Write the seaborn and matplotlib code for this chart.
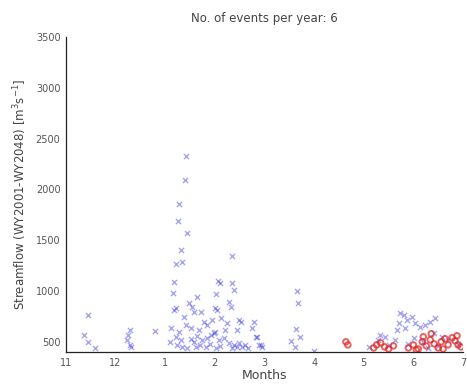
import matplotlib
matplotlib.use("Agg")
import matplotlib.pyplot as plt
import seaborn as sns
import pandas as pd

# Month axis: position 0 = start of November, one unit per month
month_positions = [0, 1, 2, 3, 4, 5, 6, 7, 8]
month_labels = ["11", "12", "1", "2", "3", "4", "5", "6", "7"]
y_ticks = [500, 1000, 1500, 2000, 2500, 3000, 3500]

# Peak-flow events, rain-driven (blue)
blue_month = [
    0.44, 0.36, 0.44, 0.58, 1.28, 1.24, 1.22, 1.28, 1.30, 1.80,
    2.42, 2.40, 2.28, 2.26, 2.44, 2.32, 2.22, 2.34, 3.34, 2.18,
    2.16, 3.06, 3.10, 3.34, 3.38, 3.02, 2.64, 3.28, 3.32, 2.18,
    2.22, 2.48, 2.54, 2.58, 2.72, 3.04, 3.00, 2.38, 2.12, 2.42,
    2.52, 2.68, 2.78, 2.84, 2.94, 3.12, 3.24, 3.48, 3.52, 3.44,
    3.78, 3.74, 3.84, 3.88, 2.22, 2.32, 2.52, 2.58, 2.74, 2.84,
    2.92, 2.98, 3.08, 3.18, 3.28, 3.38, 3.44, 3.48, 2.34, 2.24,
    2.44, 2.62, 2.82, 3.02, 3.34, 3.54, 2.10, 2.28, 2.64, 3.00,
    3.20, 3.10, 2.90, 2.70, 3.60, 3.66, 3.82, 3.92, 3.94,
    4.66, 4.68, 4.64, 4.72, 4.54, 4.62, 5.00,
    6.74, 6.82, 6.72, 6.88, 6.98, 6.68, 6.84, 7.04, 7.14, 7.24,
    7.34, 7.44, 6.32, 6.42, 6.62, 7.02, 7.42, 7.58, 6.28, 6.50,
    6.90, 7.20, 7.50, 7.70, 7.90, 6.10, 7.30,
]
blue_flow = [
    765, 570, 500, 440, 620, 570, 520, 470, 450, 610,
    2329, 2093, 1857, 1690, 1572, 1405, 1267, 1287, 1345, 1090,
    982, 1100, 1080, 1080, 1011, 972, 942, 893, 844, 815,
    830, 883, 844, 795, 795, 815, 830, 746, 638, 667,
    638, 618, 697, 667, 716, 736, 687, 716, 697, 618,
    697, 638, 550, 470, 550, 520, 530, 500, 520, 540,
    570, 589, 520, 540, 490, 470, 450, 490, 450, 470,
    440, 450, 450, 440, 440, 450, 500, 600, 560, 600,
    620, 460, 480, 470, 470, 440, 550, 470, 450,
    1001, 883, 628, 550, 510, 450, 410,
    785, 765, 687, 716, 746, 618, 638, 687, 648, 667,
    697, 736, 570, 550, 520, 540, 589, 550, 520, 470,
    480, 500, 460, 520, 480, 450, 440,
]

# Peak-flow events, snowmelt-driven (red)
red_month = [
    5.64, 5.68, 6.20, 6.26, 6.34, 6.42, 6.50, 6.60, 6.90, 7.00,
    7.10, 7.18, 7.26, 7.34, 7.42, 7.50, 7.56, 7.64, 7.70, 7.78,
    7.84, 7.90, 7.96, 7.20, 7.36, 7.06, 7.60, 7.88,
]
red_flow = [
    500, 470, 440, 470, 490, 450, 430, 460, 440, 470,
    430, 500, 460, 520, 480, 440, 500, 530, 470, 540,
    510, 470, 450, 550, 580, 420, 430, 560,
]

blue_df = pd.DataFrame({"month": blue_month, "flow": blue_flow})
red_df = pd.DataFrame({"month": red_month, "flow": red_flow})

sns.set_style("white")
plt.rcParams["font.family"] = ["DejaVu Sans"]

fig = plt.figure(figsize=(4.67, 3.90), dpi=100)
ax = fig.add_axes([66 / 467, 38 / 390, 397 / 467, 315 / 390])

sns.scatterplot(data=blue_df, x="month", y="flow", ax=ax, marker="x",
                color="#3a3ae0", s=14, linewidth=1.0, alpha=0.45)
sns.scatterplot(data=red_df, x="month", y="flow", ax=ax, marker="o",
                facecolor="none", edgecolor="#e02020", s=16, linewidth=1.4,
                alpha=0.7)

ax.set_xlim(0, 8)
ax.set_ylim(400, 3500)
ax.set_xticks(month_positions)
ax.set_xticklabels(month_labels)
ax.set_yticks(y_ticks)
ax.tick_params(axis="both", direction="in", length=3, width=0.7,
               labelsize=7, colors="#333333", labelcolor="#555555", pad=4)

for side in ("top", "right"):
    ax.spines[side].set_visible(False)
for side in ("left", "bottom"):
    ax.spines[side].set_color("#222222")
    ax.spines[side].set_linewidth(0.9)

ax.set_title("No. of events per year: 6", fontsize=8.5, color="#444444", pad=11)
ax.set_xlabel("Months", fontsize=9, color="#444444", labelpad=1)
ax.set_ylabel("Streamflow (WY2001-WY2048) [m$^3$s$^{-1}$]", fontsize=8.5,
              color="#444444", labelpad=5)

fig.savefig("out.png", dpi=100)
